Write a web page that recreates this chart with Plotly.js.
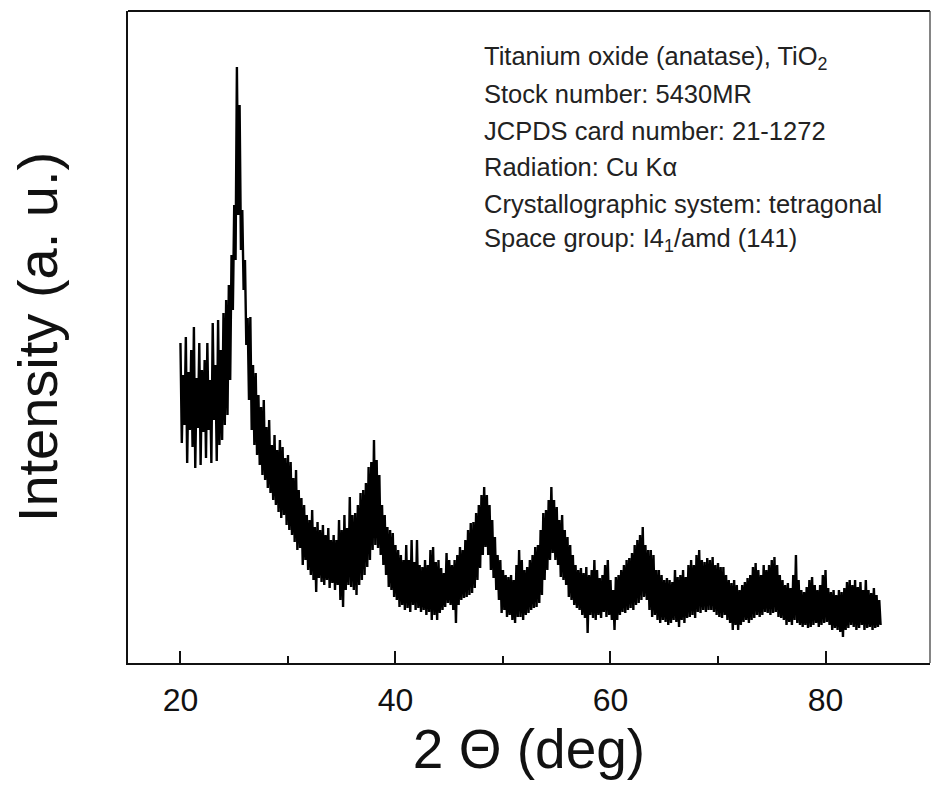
<!DOCTYPE html>
<html><head><meta charset="utf-8">
<script src="https://cdn.plot.ly/plotly-3.0.1.min.js"></script>
<style>html,body{margin:0;padding:0;background:#fff}</style>
</head><body><div id="chart" style="width:932px;height:796px"></div>
<script>
// 2θ grid of the envelope samples (deg)
const thetaStart = 20, thetaStep = 0.25;
// Upper edge of the noisy XRD trace (a.u.), one value per 0.25 deg from 20 to 85
const upperEnvelope = [
320,288,326,291,313,336,285,320,293,303,
320,283,340,298,343,313,350,363,378,408,
458,596,558,453,403,345,346,298,290,268,
256,263,236,243,218,228,213,223,216,205,
208,201,185,193,173,165,158,148,143,153,
136,141,133,138,128,135,123,128,123,143,
133,148,135,166,148,150,158,170,173,180,
196,201,223,203,188,158,148,136,133,130,
118,113,108,103,118,103,123,101,123,98,
96,103,98,113,116,101,103,95,90,110,
103,98,103,108,116,113,123,133,140,141,
150,158,168,176,168,158,143,126,108,103,
93,88,86,88,83,98,113,103,93,96,
103,108,116,118,133,150,153,163,176,163,
156,143,148,133,126,118,108,98,93,95,
90,96,88,93,103,93,85,88,98,103,
83,73,86,88,93,98,103,105,110,118,
123,128,136,118,113,113,108,93,93,88,
83,85,83,81,93,86,88,93,86,98,
103,98,108,113,103,101,105,103,106,98,
100,96,96,88,83,80,83,78,73,78,
81,85,88,96,100,93,88,98,93,98,
103,106,98,88,83,78,80,75,88,108,
83,73,71,76,83,86,78,73,78,88,
93,75,71,73,68,73,71,75,81,83,
78,83,76,81,73,83,73,70,75,68,
63];
// Lower edge of the noisy XRD trace (a.u.)
const lowerEnvelope = [
220,238,200,233,216,195,235,198,231,205,
233,200,243,202,218,223,238,248,283,353,
403,448,413,373,318,263,233,218,208,198,
188,183,175,170,163,158,151,145,148,138,
133,128,121,113,115,98,103,93,88,83,
71,85,81,78,83,75,80,73,78,63,
56,73,78,76,73,68,78,83,88,96,
103,113,118,115,108,98,88,76,73,66,
63,56,58,53,55,51,58,53,55,51,
53,48,51,43,48,43,50,53,56,60,
58,53,40,58,63,65,66,68,70,75,
83,95,108,116,108,93,85,73,63,50,
53,46,48,43,40,46,46,43,48,50,
53,55,56,60,68,83,93,103,110,103,
98,86,83,78,66,63,58,55,53,48,
45,30,48,45,43,48,45,51,46,48,
43,33,43,48,51,50,53,55,53,58,
60,63,66,63,53,46,48,43,40,43,
41,38,40,43,41,36,43,40,45,46,
48,45,51,50,53,51,53,53,51,48,
46,45,48,43,40,33,38,33,38,41,
43,40,43,45,48,46,48,51,50,48,
50,51,46,45,43,38,41,38,43,40,
38,36,38,35,36,38,40,36,38,40,
41,38,33,35,33,31,26,33,35,38,
36,33,35,38,33,35,36,33,35,36,
38];
const xTickVals = [20, 40, 60, 80];
const xTickText = ['20', '40', '60', '80'];
const xMinorTickVals = [30, 50, 70];
const infoLines = [
  'Titanium oxide (anatase), TiO<sub>2</sub>',
  'Stock number: 5430MR',
  'JCPDS card number: 21-1272',
  'Radiation: Cu K\u03b1',
  'Crystallographic system: tetragonal',
  'Space group: I4<sub>1</sub>/amd (141)'
];
const xTitle = '2 \u0398 (deg)';
const yTitle = 'Intensity (a. u.)';

const FONT = '"Liberation Sans", Arial, sans-serif';

// build the zig-zag trace that alternates between the read upper and lower edges
const xs = [], ys = [];
for (let k = 0; k < upperEnvelope.length; k++) {
  const t = thetaStart + k * thetaStep;
  xs.push(t); ys.push(upperEnvelope[k]);
  xs.push(t + thetaStep / 2); ys.push(lowerEnvelope[k]);
}

const trace = {
  type: 'scatter', mode: 'lines', x: xs, y: ys,
  line: {color: '#000', width: 2.4},
  hoverinfo: 'skip'
};

const lineY0 = 0.9279, lineDY = 0.0558;
const annotations = infoLines.map((t, i) => ({
  xref: 'paper', yref: 'paper', x: 0.4414, y: lineY0 - i * lineDY,
  xanchor: 'left', yanchor: 'middle', showarrow: false, align: 'left',
  text: t, font: {family: FONT, size: 25.5, color: '#222'}
}));

const layout = {
  width: 932, height: 796,
  margin: {l: 128, r: 2, t: 11, b: 133, pad: 0},
  paper_bgcolor: '#fff', plot_bgcolor: '#fff',
  showlegend: false,
  font: {family: FONT, color: '#111'},
  xaxis: {
    range: [15.12, 89.72], tickmode: 'array', tickvals: xTickVals, ticktext: xTickText,
    ticks: 'inside', ticklen: 12, tickwidth: 2, tickcolor: '#111',
    showline: true, linewidth: 2, linecolor: '#111', mirror: false,
    showgrid: false, zeroline: false,
    tickfont: {family: FONT, size: 32, color: '#111'},
    ticklabelstandoff: 8,
    minor: {tickvals: xMinorTickVals, ticks: 'inside', ticklen: 7, tickwidth: 2, tickcolor: '#111', showgrid: false},
    title: {text: xTitle, font: {family: FONT, size: 55, color: '#111'}, standoff: 12}
  },
  yaxis: {
    range: [0, 652], showticklabels: false, ticks: '',
    showline: true, linewidth: 2, linecolor: '#111', mirror: false,
    showgrid: false, zeroline: false,
    title: {text: yTitle, font: {family: FONT, size: 56, color: '#111'}, standoff: 50}
  },
  shapes: [
    {type: 'line', xref: 'paper', yref: 'paper', x0: 0, x1: 1, y0: 1, y1: 1, line: {color: '#111', width: 2}},
    {type: 'line', xref: 'paper', yref: 'paper', x0: 1, x1: 1, y0: 0, y1: 1, line: {color: '#333', width: 1.2}}
  ],
  annotations: annotations
};

Plotly.newPlot('chart', [trace], layout, {staticPlot: true, displayModeBar: false});
</script>
</body></html>
